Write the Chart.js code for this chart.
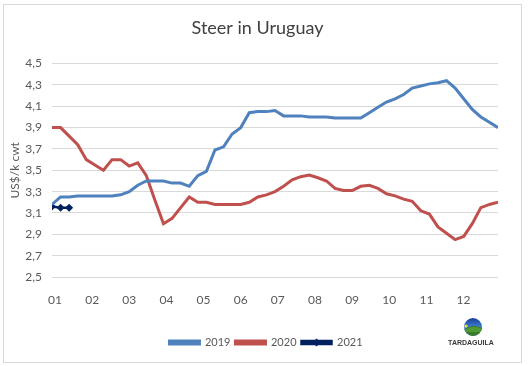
<!DOCTYPE html>
<html>
<head>
<meta charset="utf-8">
<script src="https://cdn.jsdelivr.net/npm/chart.js@4.4.1/dist/chart.umd.min.js"></script>
<style>
  body { margin: 0; background: #fff; }
  #steerChart { display: block; }
</style>
</head>
<body>
<canvas id="steerChart" width="528" height="366"></canvas>
<script>
const monthLabels = ["01", "02", "03", "04", "05", "06", "07", "08", "09", "10", "11", "12"];
const seriesNames = ["2019", "2020", "2021"];

// weekly prices, US$/k cwt
const prices2019 = [
  3.18, 3.25, 3.25, 3.26, 3.26, 3.26, 3.26, 3.26, 3.27, 3.30,
  3.36, 3.40, 3.40, 3.40, 3.38, 3.38, 3.35, 3.45, 3.49, 3.69,
  3.72, 3.84, 3.90, 4.04, 4.05, 4.05, 4.06, 4.01, 4.01, 4.01,
  4.00, 4.00, 4.00, 3.99, 3.99, 3.99, 3.99, 4.04, 4.09, 4.14,
  4.17, 4.21, 4.27, 4.29, 4.31, 4.32, 4.34, 4.27, 4.17, 4.07,
  4.00, 3.95, 3.90
];
const prices2020 = [
  3.90, 3.90, 3.82, 3.74, 3.60, 3.55, 3.50, 3.60, 3.60, 3.54,
  3.57, 3.45, 3.22, 3.00, 3.05, 3.15, 3.25, 3.20, 3.20, 3.18,
  3.18, 3.18, 3.18, 3.20, 3.25, 3.27, 3.30, 3.35, 3.41, 3.44,
  3.455, 3.43, 3.40, 3.33, 3.31, 3.31, 3.35, 3.36, 3.33, 3.28,
  3.26, 3.23, 3.21, 3.12, 3.09, 2.97, 2.91, 2.85, 2.88, 3.00,
  3.15, 3.18, 3.20
];
const prices2021 = [3.16, 3.15, 3.15];

const toPoints = (arr) => arr.map((v, i) => ({ x: i, y: v }));

const greyText = "#595959";
const gridGrey = "#d9d9d9";

const frame = {
  id: "frame",
  beforeDraw(chart) {
    const ctx = chart.ctx;
    ctx.save();
    ctx.fillStyle = "#fff";
    ctx.fillRect(0, 0, chart.width, chart.height);
    ctx.strokeStyle = gridGrey;
    ctx.lineWidth = 1;
    ctx.strokeRect(3.5, 4.5, 518, 358);
    ctx.restore();
  },
  afterLayout(chart) {
    // nudge title and legend a little to the right, like the original
    chart.titleBlock.left += 4.5;
    chart.titleBlock.right += 4.5;
    chart.legend.left += 13;
    chart.legend.right += 13;
  },
  afterDraw(chart) {
    const ctx = chart.ctx;
    ctx.save();
    // marker for the 2021 legend entry
    const hb = chart.legend.legendHitBoxes[2];
    if (hb) {
      const cx = hb.left + 15, cy = hb.top + hb.height / 2;
      ctx.fillStyle = "#002060";
      ctx.beginPath();
      ctx.moveTo(cx, cy - 4); ctx.lineTo(cx + 4, cy); ctx.lineTo(cx, cy + 4); ctx.lineTo(cx - 4, cy);
      ctx.closePath();
      ctx.fill();
    }
    // Tardaguila logo
    const lx = 473, ly = 327, r = 9;
    ctx.beginPath();
    ctx.arc(lx, ly, r, 0, Math.PI * 2);
    const g = ctx.createLinearGradient(0, ly - r, 0, ly + r);
    g.addColorStop(0, "#1a3f94");
    g.addColorStop(0.5, "#3f7fd0");
    g.addColorStop(1, "#3f7fd0");
    ctx.fillStyle = g;
    ctx.fill();
    ctx.beginPath();
    ctx.arc(lx, ly, r, 0, Math.PI * 2);
    ctx.clip();
    ctx.fillStyle = "#3b7a2a";
    ctx.beginPath();
    ctx.ellipse(lx + 1, ly + 6, 11, 7, 0, 0, Math.PI * 2);
    ctx.fill();
    ctx.fillStyle = "#4e9a35";
    ctx.beginPath();
    ctx.ellipse(lx + 1, ly + 5, 10, 5, 0, Math.PI, Math.PI * 2);
    ctx.fill();
    ctx.fillStyle = "#f4e04d";
    ctx.beginPath();
    ctx.arc(lx - 7, ly - 1, 1.6, 0, Math.PI * 2);
    ctx.fill();
    ctx.restore();
    ctx.save();
    ctx.fillStyle = "#3a3a3a";
    ctx.font = "bold 7px 'Liberation Sans'";
    ctx.textAlign = "center";
    ctx.textBaseline = "middle";
    ctx.fillText("TARDAGUILA", 471, 343);
    ctx.restore();
  }
};

new Chart(document.getElementById("steerChart"), {
  type: "line",
  data: {
    datasets: [
      {
        label: seriesNames[0],
        data: toPoints(prices2019),
        borderColor: "#4f81bd",
        backgroundColor: "#4f81bd",
        borderWidth: 3,
        pointRadius: 0,
        tension: 0,
      },
      {
        label: seriesNames[1],
        data: toPoints(prices2020),
        borderColor: "#c0504d",
        backgroundColor: "#c0504d",
        borderWidth: 3,
        pointRadius: 0,
        tension: 0,
      },
      {
        label: seriesNames[2],
        data: toPoints(prices2021),
        borderColor: "#002060",
        backgroundColor: "#002060",
        borderWidth: 2.5,
        pointStyle: "rectRot",
        pointRadius: 4,
        pointBorderWidth: 0,
        tension: 0,
      },
    ],
  },
  options: {
    responsive: false,
    animation: false,
    layout: { padding: { top: 8, left: 8, right: 30, bottom: 8 } },
    plugins: {
      title: {
        display: true,
        text: "Steer in Uruguay",
        color: "#404040",
        font: { family: "Lato", size: 18, weight: "normal" },
        padding: { top: 9, bottom: 25 },
      },
      legend: {
        position: "bottom",
        labels: {
          boxWidth: 30,
          boxHeight: 3,
          padding: 5,
          color: greyText,
          font: { family: "Lato", size: 11 },
        },
      },
      tooltip: { enabled: false },
    },
    scales: {
      x: {
        type: "linear",
        min: 0,
        max: prices2019.length - 1,
        grid: { display: false },
        border: { display: false },
        afterBuildTicks: (axis) => {
          axis.ticks = monthLabels.map((m, i) => ({ value: 0.35 + i * 4.33 }));
        },
        afterFit: (axis) => { axis.height = 55; },
        ticks: {
          autoSkip: false,
          maxRotation: 0,
          padding: 8,
          color: greyText,
          font: { family: "Lato", size: 12 },
          callback: (value, index) => monthLabels[index],
        },
      },
      y: {
        min: 2.5,
        max: 4.5,
        afterFit: (axis) => { axis.width = 44; },
        grid: { color: gridGrey, drawTicks: false },
        border: { display: false },
        title: {
          display: true,
          text: "US$/k cwt",
          color: greyText,
          font: { family: "Lato", size: 12 },
          padding: { top: 0, bottom: 0 },
        },
        ticks: {
          stepSize: 0.2,
          padding: 10,
          color: greyText,
          font: { family: "Lato", size: 12 },
          callback: (value) => value.toFixed(1).replace(".", ","),
        },
      },
    },
  },
  plugins: [frame],
});
</script>
</body>
</html>
